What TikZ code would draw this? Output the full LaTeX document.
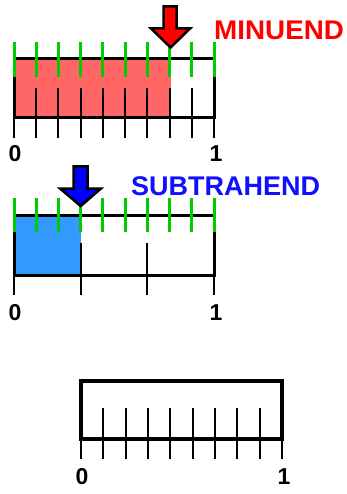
\documentclass[tikz,border=0pt]{standalone}
\usepackage{fontspec}
\setmainfont{Liberation Sans}
\definecolor{fillred}{HTML}{FF6666}
\definecolor{fillblue}{HTML}{3399FF}
\definecolor{tickgreen}{HTML}{00CC00}
\definecolor{txtblue}{HTML}{1010FF}
\begin{document}
\begin{tikzpicture}[x=1pt,y=-1pt,
  barbox/.style={draw=black,line width=3pt},
  blacktick/.style={draw=black,line width=2pt},
  greentick/.style={draw=tickgreen,line width=3pt},
  pointer/.style={draw=black,line width=2.5pt,line join=miter},
  numlabel/.style={font=\fontsize{23}{23}\selectfont\bfseries,inner sep=0pt,anchor=center},
  namelabel/.style={font=\fontsize{27}{27}\selectfont\bfseries,inner sep=0pt,anchor=west}]
\useasboundingbox (0,0) rectangle (347,494);
% ---------- Minuend bar ----------
\fill[fillred] (14,59) rectangle (170.6,118);
\foreach \i in {1,...,8} {\draw[blacktick] ({14+\i*200/9},88) -- ({14+\i*200/9},138);}
\foreach \i in {0,9} {\draw[blacktick] ({14+\i*200/9},118) -- ({14+\i*200/9},138);}
\draw[barbox] (14,59) rectangle (214,118);
\foreach \i in {0,...,9} {\draw[greentick] ({14+\i*200/9},42) -- ({14+\i*200/9},77);}
\draw[pointer,fill=red] (163.5,6.5) -- (176.5,6.5) -- (176.5,28.5) -- (190,28.5) -- (170.6,47.5) -- (151,28.5) -- (163.5,28.5) -- cycle;
\node[namelabel,text=red,xscale=1.03] (minuend) at (214,30) {MINUEND};
\node[numlabel] (z1) at (15,154) {0};
\node[numlabel] (o1) at (216,154) {1};
% ---------- Subtrahend bar ----------
\fill[fillblue] (14,215) rectangle (80.7,275);
\foreach \i in {1,2} {\draw[blacktick] ({14+\i*200/3},243) -- ({14+\i*200/3},295);}
\foreach \i in {0,3} {\draw[blacktick] ({14+\i*200/3},275) -- ({14+\i*200/3},295);}
\draw[barbox] (14,215) rectangle (214,275);
\foreach \i in {0,...,9} {\draw[greentick] ({14+\i*200/9},198) -- ({14+\i*200/9},232);}
\draw[pointer,fill=blue] (73.5,166.5) -- (87.5,166.5) -- (87.5,188.5) -- (101,188.5) -- (80.7,206) -- (60,188.5) -- (73.5,188.5) -- cycle;
\node[namelabel,text=txtblue] (subtrahend) at (131,186) {SUBTRAHEND};
\node[numlabel] (z2) at (15,313) {0};
\node[numlabel] (o2) at (216,313) {1};
% ---------- Empty bar ----------
\foreach \i in {1,...,8} {\draw[blacktick] ({81+\i*201/9},408) -- ({81+\i*201/9},459);}
\foreach \i in {0,9} {\draw[blacktick] ({81+\i*201/9},439) -- ({81+\i*201/9},459);}
\draw[barbox,line width=3.5pt] (81,381) rectangle (282,439);
\node[numlabel] (z3) at (82,477) {0};
\node[numlabel] (o3) at (284,477) {1};
\end{tikzpicture}
\end{document}
